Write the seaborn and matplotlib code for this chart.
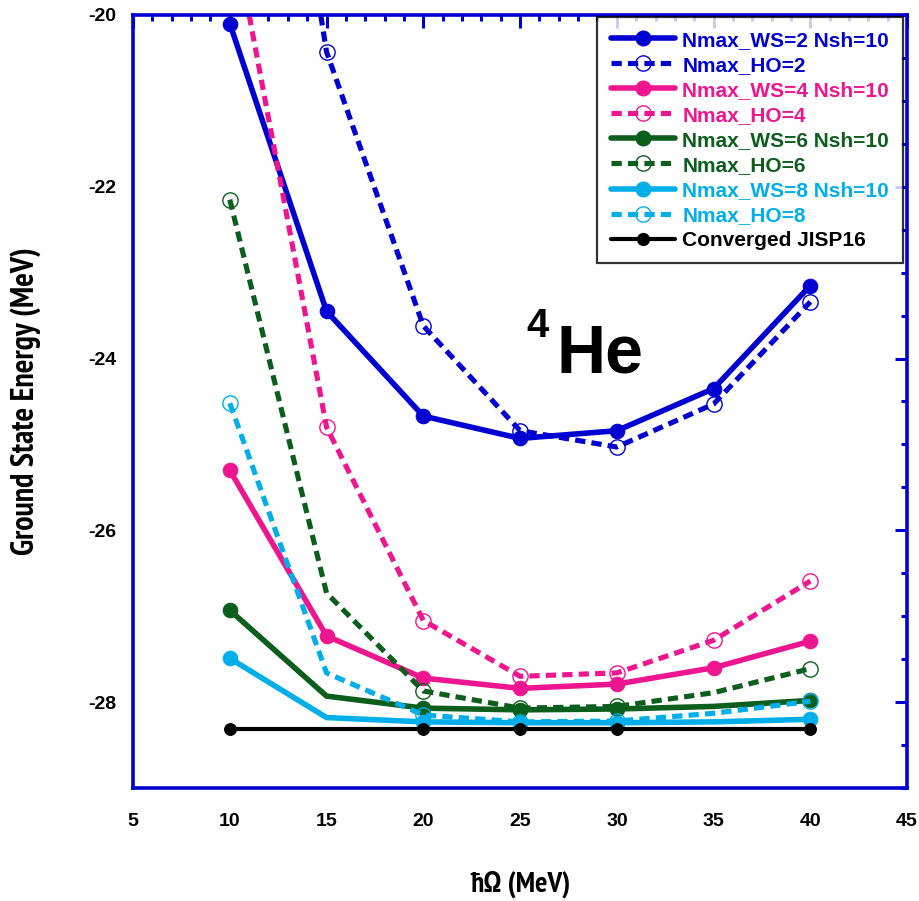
import numpy as np
import pandas as pd
import seaborn as sns
import matplotlib
matplotlib.use("Agg")
import matplotlib.pyplot as plt
from matplotlib.lines import Line2D
from matplotlib.ticker import MultipleLocator
import matplotlib.font_manager as fm

# ---------------- data ----------------
hw = [10, 15, 20, 25, 30, 35, 40]
ws2 = [-20.10, -23.45, -24.67, -24.93, -24.84, -24.35, -23.15]
ho2 = [-13.3, -20.43, -23.62, -24.84, -25.03, -24.53, -23.34]
ws4 = [-25.30, -27.23, -27.72, -27.84, -27.79, -27.60, -27.29]
ho4 = [-18.8, -24.80, -27.05, -27.70, -27.66, -27.28, -26.59]
ws6 = [-26.93, -27.93, -28.07, -28.09, -28.08, -28.05, -27.98]
ho6 = [-22.15, -26.73, -27.87, -28.07, -28.05, -27.89, -27.61]
ws8 = [-27.49, -28.18, -28.23, -28.24, -28.24, -28.23, -28.20]
ho8 = [-24.52, -27.66, -28.15, -28.23, -28.22, -28.13, -27.99]
hw_conv = [10, 20, 25, 30, 40]
conv = [-28.31, -28.31, -28.31, -28.31, -28.31]

labels = ["Nmax_WS=2 Nsh=10", "Nmax_HO=2", "Nmax_WS=4 Nsh=10", "Nmax_HO=4",
          "Nmax_WS=6 Nsh=10", "Nmax_HO=6", "Nmax_WS=8 Nsh=10", "Nmax_HO=8",
          "Converged JISP16"]
xticks = [5, 10, 15, 20, 25, 30, 35, 40, 45]
yticks = [-28, -26, -24, -22, -20]

# ---------------- style ----------------
sns.set_style("white")
names = {f.name for f in fm.fontManager.ttflist}
main_font = "Liberation Sans" if "Liberation Sans" in names else "DejaVu Sans"
plt.rcParams["font.family"] = [main_font, "DejaVu Sans"]
plt.rcParams["axes.unicode_minus"] = False
plt.rcParams["text.color"] = "black"
plt.rcParams["axes.labelcolor"] = "black"
plt.rcParams["xtick.labelcolor"] = "black"
plt.rcParams["ytick.labelcolor"] = "black"

# condensed font for axis titles, if available
cond_prop = None
for f in fm.fontManager.ttflist:
    if "Narrow" in f.name and f.weight in ("bold", 700):
        cond_prop = fm.FontProperties(fname=f.fname)
        break
if cond_prop is None:
    for f in fm.fontManager.ttflist:
        if f.name == "DejaVu Sans" and f.stretch == "condensed" and f.weight in ("bold", 700):
            cond_prop = fm.FontProperties(fname=f.fname)
            break
if cond_prop is None:
    cond_prop = fm.FontProperties(family=main_font, weight="bold")

BLUE = "#0000d2"
PINK = "#ee1690"
GREEN = "#0b5e1c"
CYAN = "#00aeea"
BLACK = "#000000"

fig = plt.figure(figsize=(9.2, 9.01), dpi=100)
ax = fig.add_axes([0.1446, 0.1254, 0.8414, 0.858])

dash = (0, (2.0, 1.2))
all_idx = [0, 1, 2, 3, 4, 5, 6]
sub_idx = [0, 2, 3, 4, 6]

series = [
    (hw, ws2, BLUE, "-", "full", all_idx),
    (hw, ho2, BLUE, dash, "open", all_idx),
    (hw, ws4, PINK, "-", "full", all_idx),
    (hw, ho4, PINK, dash, "open", all_idx),
    (hw, ws6, GREEN, "-", "full", sub_idx),
    (hw, ho6, GREEN, dash, "open", sub_idx),
    (hw, ws8, CYAN, "-", "full", sub_idx),
    (hw, ho8, CYAN, dash, "open", sub_idx),
]

handles = []
for (xs, ys, c, ls, kind, mev), lab in zip(series, labels[:8]):
    df = pd.DataFrame({"x": xs, "y": ys})
    if kind == "full":
        kw = dict(marker="o", markersize=10.5, markerfacecolor=c, markeredgecolor=c, lw=4.0)
    else:
        kw = dict(marker="o", markersize=11, markerfacecolor="none", markeredgecolor=c,
                  markeredgewidth=1.0, lw=3.7)
    sns.lineplot(data=df, x="x", y="y", ax=ax, color=c, linestyle=ls, estimator=None,
                 sort=False, markevery=mev, **kw)
    handles.append(Line2D([0], [0], color=c, linestyle=ls, **kw))

dfc = pd.DataFrame({"x": hw_conv, "y": conv})
sns.lineplot(data=dfc, x="x", y="y", ax=ax, color=BLACK, lw=3.0, marker="o",
             markersize=8.5, markerfacecolor=BLACK, markeredgecolor=BLACK,
             estimator=None, sort=False)
handles.append(Line2D([0], [0], color=BLACK, lw=3.0, marker="o", markersize=8.5,
                      markerfacecolor=BLACK, markeredgecolor=BLACK))

# ---------------- axes ----------------
ax.set_xlim(5, 45)
ax.set_ylim(-29, -20)
ax.set_xticks(xticks)
ax.set_yticks(yticks)
ax.set_xticklabels([str(v) for v in xticks])
ax.set_yticklabels([str(v) for v in yticks])
ax.xaxis.set_minor_locator(MultipleLocator(1))
ax.yaxis.set_minor_locator(MultipleLocator(0.5))
ax.tick_params(which="both", direction="in", top=True, right=True, color=BLUE)
ax.tick_params(which="major", length=9, width=2.2)
ax.tick_params(which="minor", length=4.5, width=2.2)
ax.tick_params(axis="x", which="major", pad=18, labelsize=14)
ax.tick_params(axis="y", which="major", pad=12, labelsize=14)
for lab in ax.get_xticklabels() + ax.get_yticklabels():
    lab.set_fontweight("bold")
for sp in ax.spines.values():
    sp.set_color(BLUE)
    sp.set_linewidth(2.6)

xl_prop = cond_prop.copy()
xl_prop.set_size(21)
yl_prop = cond_prop.copy()
yl_prop.set_size(23)
ax.set_xlabel("ħΩ (MeV)", fontproperties=xl_prop, labelpad=29)
ax.set_ylabel("Ground State Energy (MeV)", fontproperties=yl_prop, labelpad=34)

ax.text(26.86, -24.16, "He", fontsize=49, fontweight="bold", ha="left", va="baseline",
        color="black")
ax.text(25.3, -23.75, "4", fontsize=29, fontweight="bold", ha="left", va="baseline",
        color="black")

leg = ax.legend(handles, labels, loc="upper right", bbox_to_anchor=(0.997, 1.0),
                borderaxespad=0.1, handlelength=3.1, handletextpad=0.35,
                labelspacing=0.29, borderpad=0.65, frameon=True, fancybox=False,
                numpoints=1, prop={"weight": "bold", "size": 15})
leg.get_frame().set_edgecolor("black")
leg.get_frame().set_linewidth(1.6)
for t, h in zip(leg.get_texts(), handles):
    t.set_color(h.get_color())

fig.savefig("out.png", dpi=100)
